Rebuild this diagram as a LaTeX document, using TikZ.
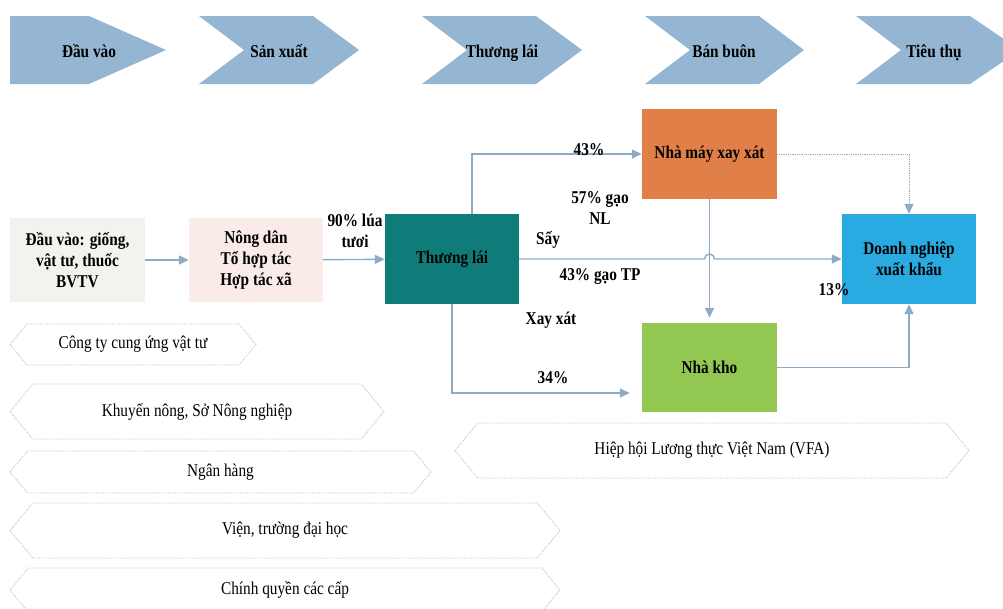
\documentclass[tikz,border=0pt]{standalone}
\usepackage{fontspec}
\setmainfont{Liberation Serif}[FakeStretch=0.85]
\usetikzlibrary{arrows.meta,positioning,calc}
\definecolor{chevblue}{RGB}{148, 182, 210}
\definecolor{inputgray}{RGB}{242, 243, 239}
\definecolor{farmpink}{RGB}{249, 235, 231}
\definecolor{traderteal}{RGB}{15, 124, 121}
\definecolor{millorange}{RGB}{224, 128, 72}
\definecolor{exportblue}{RGB}{41, 171, 226}
\definecolor{storegreen}{RGB}{146, 200, 82}
\definecolor{flowcol}{RGB}{143, 170, 196}
\definecolor{hexblue}{RGB}{160, 195, 228}

\begin{document}
\begin{tikzpicture}[
    x=1pt, y=-1pt,
    every node/.style={align=center, inner sep=0pt, font=\fontsize{18}{21}\selectfont},
    bold/.style={font=\fontsize{18}{21}\selectfont\bfseries},
    chev/.style={fill=chevblue},
    chevtext/.style={bold, text height=12pt, text depth=4pt},
    box/.style={rectangle, minimum width=134pt, minimum height=90pt, bold},
    hexline/.style={draw=hexblue, line width=0.8pt, densely dotted},
    arrow/.style={draw=flowcol, line width=1.4pt, -{Triangle[length=10pt,width=9pt]}}
]
\useasboundingbox (0,0) rectangle (1003,608);
\clip (0,0) rectangle (1003,608);

% Value chain stages
\foreach \nm/\xl/\dd/\xr/\xt/\xc/\txt in {dv/10/0/89/166/89/Đầu vào, sx/199/45/313/359/279/Sản xuất,
    tl/422/45/536/582/502/Thương lái, bb/645/45/759/804/724/Bán buôn, tt/856/45/970/1020/934/Tiêu thụ}{
  \fill[chev] (\xl,16) -- (\xr,16) -- (\xt,50) -- (\xr,84) -- (\xl,84) -- ({\xl+\dd},50) -- cycle;
  \node[chevtext] (\nm) at (\xc,53) {\txt};
}

% Supporting actors
\foreach \nm/\xl/\xr/\yt/\yb/\txt in {cty/10/256/324/365/{Công ty cung ứng vật tư},
    kn/10/384/384/439/{Khuyến nông, Sở Nông nghiệp}, nh/10/431/451/493/{Ngân hàng},
    vien/10/560/503/558/{Viện, trường đại học}, cq/10/560/568/612/{Chính quyền các cấp},
    vfa/455/969/423/478/{Hiệp hội Lương thực Việt Nam (VFA)}}{
  \pgfmathsetmacro{\ym}{(\yt+\yb)/2}
  \pgfmathsetmacro{\dd}{0.83*(\yb-\yt)/2}
  \draw[hexline] (\xl,\ym) -- ({\xl+\dd},\yt) -- ({\xr-\dd},\yt) -- (\xr,\ym)
    -- ({\xr-\dd},\yb) -- ({\xl+\dd},\yb) -- cycle;
  \node (\nm) at ({(\xl+\xr)/2},\ym) {\txt};
}

% Actors
\node[box, fill=inputgray, minimum width=135pt, minimum height=84pt] (input) at (77.5,260) {Đầu vào: giống,\\vật tư, thuốc\\BVTV};
\node[box, fill=farmpink, minimum height=84pt] (farmer) at (256,260) {Nông dân\\Tổ hợp tác\\Hợp tác xã};
\node[box, fill=traderteal] (trader) at (452,259) {Thương lái};
\node[box, fill=millorange, minimum width=135pt] (mill) at (709.5,154) {Nhà máy xay xát};
\node[box, fill=storegreen, minimum width=135pt, minimum height=89pt] (store) at (709.5,367.5) {Nhà kho};
\node[box, fill=exportblue] (export) at (909,259) {Doanh nghiệp\\xuất khẩu};

% Flows
\coordinate (hop) at (mill.south |- trader.east);
\draw[arrow] (input) -- (farmer);
\draw[arrow] (farmer) -- (trader);
\draw[arrow] ([xshift=20pt]trader.north) |- (mill.west);
\draw[arrow] (trader.east) -- ([xshift=-5pt]hop) arc[start angle=180, end angle=0, radius=5pt] -- (export.west);
\draw[arrow, shorten >=12pt] (trader.south) |- ([yshift=-25.5pt]store.west);
\draw[arrow, shorten >=5pt] (mill.south) -- (store.north);
\draw[arrow] (store.east) -| (export.south);
\draw[arrow, line width=0.8pt, densely dotted] (mill.east) -| (export.north);

% Flow labels
\node[bold] (lbl90) at (355,231) {90\% lúa\\tươi};
\node[bold] (lbl43a) at (589,150) {43\%};
\node[bold] (lbl57) at (600,208) {57\% gạo\\NL};
\node[bold] (lblsay) at (548,240) {Sấy};
\node[bold] (lbl43b) at (600,276) {43\% gạo TP};
\node[bold] (lbl13) at (834,290) {13\%};
\node[bold] (lblxx) at (551,320) {Xay xát};
\node[bold] (lbl34) at (553,378) {34\%};

\end{tikzpicture}
\end{document}
